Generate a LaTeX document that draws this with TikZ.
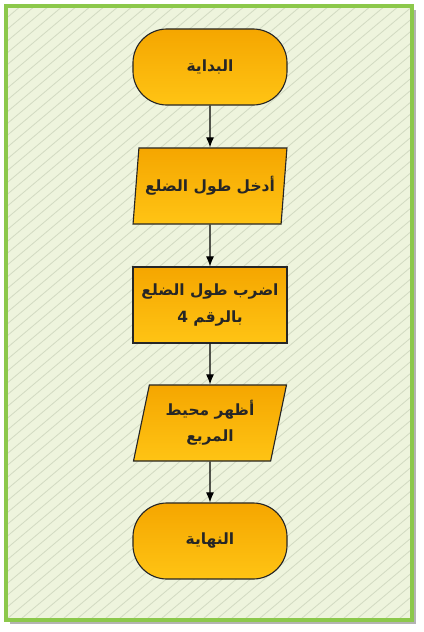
\documentclass[tikz,border=0pt]{standalone}
\usepackage{fontspec}
\newfontfamily\arabicfont[Script=Arabic]{DejaVu Sans}
\TeXXeTstate=1
\usepackage{xcolor}
\usetikzlibrary{shapes.geometric, shadows, arrows.meta}

\definecolor{FrameGreen}{HTML}{8CC84B}
\definecolor{PaperGreen}{HTML}{EEF4DD}
\definecolor{HatchGreen}{HTML}{D3DBC3}
\definecolor{BoxTop}{HTML}{F5A600}
\definecolor{BoxBottom}{HTML}{FFC414}

\begin{document}
\begin{tikzpicture}[x=0.025cm, y=-0.025cm,
        box/.style={draw=black!85, thick, top color=BoxTop, bottom color=BoxBottom,
            text=black!85, align=center, font=\arabicfont\bfseries\fontsize{11}{18.5}\selectfont,
            minimum width=3.85cm, minimum height=1.9cm, inner sep=1pt},
        terminal/.style={box, rectangle, rounded corners=0.85cm},
        inout/.style={box, trapezium, trapezium left angle=76, trapezium right angle=104,
            trapezium stretches=true},
        process/.style={box, rectangle}]
        \useasboundingbox (0,0) rectangle (423,632);

        % paper with hatching
        \fill[PaperGreen, drop shadow={shadow xshift=0.1cm, shadow yshift=-0.1cm, opacity=0.6}] (6,6) rectangle (412,620);
        \begin{scope}
            \clip (6,6) rectangle (412,620);
            \foreach \c in {0,14,...,1200}
                \draw[HatchGreen, line width=0.6pt] (\c,0) -- (\c-760,640);
        \end{scope}
        \draw[FrameGreen, line width=2.8pt] (6,6) rectangle (412,620);

        % flowchart
        \node[terminal] (start) at (210,67) {\beginR البداية\endR};
        \node[inout] (input) at (210,186) {\beginR أدخل طول الضلع\endR};
        \node[process] (multiply) at (210,305) {\beginR اضرب طول الضلع\endR\\ \beginR بالرقم 4\endR};
        \node[inout] (output) at (210,423) {\beginR أظهر محيط\endR\\ \beginR المربع\endR};
        \node[terminal] (finish) at (210,541) {\beginR النهاية\endR};

        \draw[thick, ->, >={Latex[length=2.5mm, width=2mm]}] (start) -- (input);
        \draw[thick, ->, >={Latex[length=2.5mm, width=2mm]}] (input) -- (multiply);
        \draw[thick, ->, >={Latex[length=2.5mm, width=2mm]}] (multiply) -- (output);
        \draw[thick, ->, >={Latex[length=2.5mm, width=2mm]}] (output) -- (finish);
    \end{tikzpicture}
\end{document}
